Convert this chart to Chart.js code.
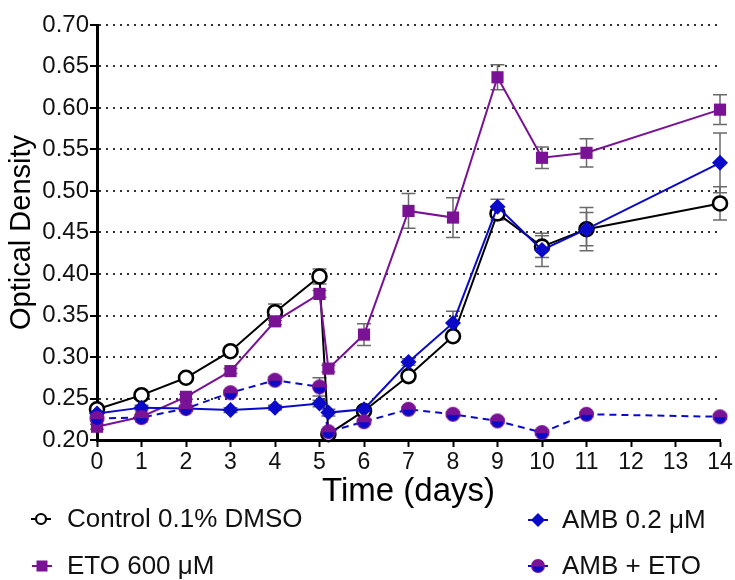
<!DOCTYPE html>
<html>
<head>
<meta charset="utf-8">
<script src="https://cdn.jsdelivr.net/npm/chart.js@4/dist/chart.umd.min.js"></script>
<style>
  html, body { margin: 0; padding: 0; background: #fff; }
  #wrap { width: 735px; height: 580px; position: relative; }
</style>
</head>
<body>
<div id="wrap"><canvas id="c" width="735" height="580"></canvas></div>
<script>
// ---- data ----
const days = [0, 1, 2, 3, 4, 5, 5.2, 6, 7, 8, 9, 10, 11, 14];
const xTicks = [0, 1, 2, 3, 4, 5, 6, 7, 8, 9, 10, 11, 12, 13, 14];
const yTicks = [0.20, 0.25, 0.30, 0.35, 0.40, 0.45, 0.50, 0.55, 0.60, 0.65, 0.70];

const seriesNames = ['Control 0.1% DMSO', 'ETO 600 \u03BCM', 'AMB 0.2 \u03BCM', 'AMB + ETO'];

const controlOD = [0.237, 0.254, 0.275, 0.307, 0.354, 0.397, 0.207, 0.235, 0.277, 0.325, 0.473, 0.433, 0.454, 0.485];
const etoOD     = [0.216, 0.228, 0.252, 0.283, 0.343, 0.376, 0.286, 0.327, 0.476, 0.468, 0.637, 0.540, 0.546, 0.598];
const ambOD     = [0.232, 0.239, 0.238, 0.236, 0.239, 0.244, 0.233, 0.237, 0.294, 0.341, 0.481, 0.429, 0.454, 0.534];
const comboOD   = [0.226, 0.227, 0.238, 0.257, 0.272, 0.264, 0.210, 0.222, 0.237, 0.231, 0.223, 0.209, 0.231, 0.228];

const controlErr = [0.003, 0.003, 0.003, 0.003, 0.010, 0.009, 0.003, 0.003, 0.003, 0.004, 0.008, 0.013, 0.020, 0.020];
const etoErr     = [0.003, 0.003, 0.003, 0.003, 0.004, 0.004, 0.004, 0.013, 0.021, 0.024, 0.015, 0.013, 0.017, 0.018];
const ambErr     = [0.003, 0.003, 0.003, 0.003, 0.003, 0.004, 0.004, 0.003, 0.004, 0.014, 0.009, 0.020, 0.026, 0.036];
const comboErr   = [0.003, 0.003, 0.003, 0.003, 0.004, 0.011, 0.003, 0.003, 0.003, 0.003, 0.003, 0.003, 0.003, 0.003];

// ---- styling ----
const PURPLE = '#7A1296';
const BLUE = '#0A0AC8';
const FONT = '"Liberation Sans", Arial, Helvetica, sans-serif';

function makeComboMarker(r) {
  const s = Math.ceil(r * 2 + 2);
  const cv = document.createElement('canvas');
  cv.width = s; cv.height = s;
  const g = cv.getContext('2d');
  const c = s / 2;
  g.fillStyle = PURPLE;
  g.beginPath(); g.arc(c, c, r, 0, Math.PI * 2); g.fill();
  g.fillStyle = BLUE;
  g.beginPath(); g.arc(c, c + 0.5, r - 1.6, 0, Math.PI); g.closePath(); g.fill();
  return cv;
}
const comboMarker = makeComboMarker(7.5);
const comboMarkerSmall = makeComboMarker(7);

function pts(ys) { return days.map((d, i) => ({ x: d, y: ys[i] })); }

const datasets = [
  { label: seriesNames[0], data: pts(controlOD), err: controlErr,
    borderColor: '#000', borderWidth: 2, pointStyle: 'circle', pointRadius: 7,
    pointBorderWidth: 2.6, pointBackgroundColor: '#fff', pointBorderColor: '#000', order: 3 },
  { label: seriesNames[1], data: pts(etoOD), err: etoErr,
    borderColor: PURPLE, borderWidth: 2, pointStyle: 'rect', pointRadius: 8.6,
    pointBorderWidth: 0, pointBackgroundColor: PURPLE, pointBorderColor: PURPLE, order: 2 },
  { label: seriesNames[2], data: pts(ambOD), err: ambErr,
    borderColor: BLUE, borderWidth: 2, pointStyle: 'rectRot', pointRadius: 8,
    pointBorderWidth: 0, pointBackgroundColor: BLUE, pointBorderColor: BLUE, order: 1 },
  { label: seriesNames[3], data: pts(comboOD), err: comboErr,
    borderColor: BLUE, borderWidth: 2, borderDash: [7, 5], pointStyle: comboMarker, pointRadius: 7.5,
    pointBorderWidth: 0, pointBackgroundColor: PURPLE, pointBorderColor: PURPLE, order: 0 }
];
datasets.forEach(d => { d.clip = false; d.tension = 0; d.fill = false; d.pointHoverRadius = d.pointRadius; });

// error bars drawn through the scales, behind the markers
const errorBars = {
  id: 'errorBars',
  beforeDatasetsDraw(chart) {
    const { ctx, scales: { x, y } } = chart;
    ctx.save();
    ctx.strokeStyle = '#6a6a6a';
    ctx.lineWidth = 1.5;
    chart.data.datasets.forEach(ds => {
      ds.data.forEach((p, i) => {
        const e = ds.err[i];
        const px = x.getPixelForValue(p.x);
        const yt = y.getPixelForValue(p.y + e);
        const yb = y.getPixelForValue(p.y - e);
        ctx.beginPath();
        ctx.moveTo(px, yt); ctx.lineTo(px, yb);
        ctx.moveTo(px - 7, yt); ctx.lineTo(px + 7, yt);
        ctx.moveTo(px - 7, yb); ctx.lineTo(px + 7, yb);
        ctx.stroke();
      });
    });
    ctx.restore();
  }
};

// two-column legend under the x axis title
const bottomLegend = {
  id: 'bottomLegend',
  afterDraw(chart) {
    const ctx = chart.ctx;
    const items = [
      { ds: 0, mx: 41, tx: 67, cy: 519 },
      { ds: 1, mx: 42, tx: 67, cy: 566 },
      { ds: 2, mx: 538, tx: 562, cy: 520 },
      { ds: 3, mx: 538, tx: 562, cy: 566 }
    ];
    ctx.save();
    items.forEach(it => {
      const ds = chart.data.datasets[it.ds];
      // line stub
      ctx.strokeStyle = ds.borderColor;
      ctx.lineWidth = 2;
      ctx.setLineDash([]);
      ctx.beginPath(); ctx.moveTo(it.mx - 10, it.cy); ctx.lineTo(it.mx + 10, it.cy); ctx.stroke();
      // marker
      if (it.ds === 0) {
        ctx.fillStyle = '#fff'; ctx.strokeStyle = '#000'; ctx.lineWidth = 2.2;
        ctx.beginPath(); ctx.arc(it.mx, it.cy, 5, 0, Math.PI * 2); ctx.fill(); ctx.stroke();
      } else if (it.ds === 1) {
        ctx.fillStyle = PURPLE; ctx.fillRect(it.mx - 5.5, it.cy - 5.5, 11, 11);
      } else if (it.ds === 2) {
        ctx.fillStyle = BLUE;
        ctx.beginPath();
        ctx.moveTo(it.mx, it.cy - 7); ctx.lineTo(it.mx + 7, it.cy);
        ctx.lineTo(it.mx, it.cy + 7); ctx.lineTo(it.mx - 7, it.cy); ctx.closePath(); ctx.fill();
      } else {
        ctx.drawImage(comboMarkerSmall, it.mx - comboMarkerSmall.width / 2, it.cy - comboMarkerSmall.height / 2);
      }
      ctx.fillStyle = '#111';
      ctx.font = '26px ' + FONT;
      ctx.textBaseline = 'middle';
      ctx.textAlign = 'left';
      ctx.fillText(ds.label, it.tx, it.cy + 1);
    });
    ctx.restore();
  }
};

new Chart(document.getElementById('c'), {
  type: 'line',
  data: { datasets },
  plugins: [errorBars, bottomLegend],
  options: {
    responsive: false,
    devicePixelRatio: 1,
    animation: false,
    events: [],
    layout: { padding: { top: 25, right: 15, left: 0, bottom: 0 } },
    plugins: { legend: { display: false }, tooltip: { enabled: false }, title: { display: false } },
    scales: {
      x: {
        type: 'linear',
        min: xTicks[0], max: xTicks[xTicks.length - 1],
        afterBuildTicks: s => { s.ticks = xTicks.map(v => ({ value: v })); },
        afterFit: s => { s.height = 140; },
        ticks: { color: '#111', font: { family: FONT, size: 23 }, padding: 2, maxRotation: 0, autoSkip: false,
                 callback: v => String(v) },
        grid: { display: true, drawOnChartArea: false, drawTicks: true, tickLength: 7, tickColor: '#000', tickWidth: 2 },
        border: { display: true, color: '#000', width: 3 },
        title: { display: true, text: 'Time (days)', color: '#000', font: { family: FONT, size: 33 },
                 padding: { top: 0, bottom: 68 } }
      },
      y: {
        type: 'linear',
        min: yTicks[0], max: yTicks[yTicks.length - 1],
        afterBuildTicks: s => { s.ticks = yTicks.map(v => ({ value: v })); },
        afterFit: s => { s.width = 97; },
        ticks: { color: '#111', font: { family: FONT, size: 24 }, padding: 1,
                 callback: v => Number(v).toFixed(2) },
        grid: {
          display: true, drawOnChartArea: true, drawTicks: true, tickLength: 7, tickWidth: 2,
          tickColor: '#000', tickBorderDash: [],
          lineWidth: 2,
          color: c => (c.tick && c.tick.value <= yTicks[0] + 1e-6) ? 'rgba(0,0,0,0)' : '#333'
        },
        border: { display: true, color: '#000', width: 3, dash: [2, 5] },
        title: { display: true, text: 'Optical Density', color: '#000', font: { family: FONT, size: 29 },
                 padding: { top: 5, bottom: 0 } }
      }
    }
  }
});
</script>
</body>
</html>
